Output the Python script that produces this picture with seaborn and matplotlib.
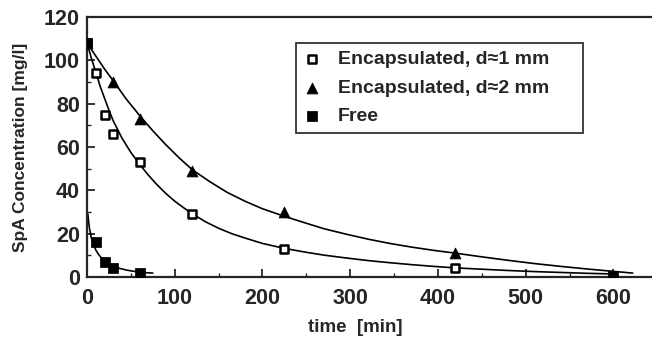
import matplotlib
matplotlib.use('Agg')
import matplotlib.pyplot as plt
import seaborn as sns
from matplotlib.ticker import MultipleLocator

# measured points
t_1mm = [0, 10, 20, 30, 60, 120, 225, 420]
c_1mm = [108, 94, 75, 66, 53, 29, 13, 4]
t_2mm = [0, 30, 60, 120, 225, 420]
c_2mm = [108, 90, 73, 49, 30, 11]
t_free = [0, 10, 20, 30, 60, 600]
c_free = [108, 16, 7, 4, 1.8, 0.5]

# fitted curves
fit_t_1mm = [0, 5, 10, 15, 20, 25, 30, 40, 50, 60, 70, 80, 90, 100, 110, 120, 135, 150, 165, 180,
             200, 225, 250, 270, 295, 320, 345, 370, 395, 420, 450, 480, 510, 540, 570, 600]
fit_c_1mm = [108, 101, 94.5, 88, 82.5, 77, 72, 64, 57.5, 52, 47, 42.5, 38.5, 35, 32, 29.2, 25.5, 22.5, 20, 18,
             15.5, 13.2, 11.4, 10.1, 8.8, 7.6, 6.6, 5.7, 4.9, 4.2, 3.6, 3.0, 2.5, 2.1, 1.7, 1.4]
fit_t_2mm = [0, 10, 20, 30, 45, 60, 75, 90, 105, 120, 140, 160, 180, 200, 225, 250, 270, 295, 320,
             345, 370, 395, 420, 450, 480, 510, 540, 570, 600, 622]
fit_c_2mm = [108, 102, 96, 90.5, 82, 74.5, 67.5, 61, 55, 49.5, 44, 39, 35, 31.5, 28, 24.8, 22.3, 19.8, 17.5,
             15.5, 13.8, 12.3, 11, 9.3, 7.7, 6.2, 4.9, 3.7, 2.6, 1.8]
fit_t_free = [1, 2, 3, 5, 7, 10, 13, 16, 20, 25, 30, 37, 45, 52, 60, 67, 75]
fit_c_free = [29, 25, 22, 18, 15.5, 12.5, 10.5, 9, 7.5, 6.1, 5, 4, 3.2, 2.7, 2.3, 2.0, 1.8]

sns.set_style('ticks')
plt.rcParams['font.family'] = ['Liberation Sans', 'DejaVu Sans']
plt.rcParams['font.weight'] = 'bold'

fig = plt.figure(figsize=(6.52, 3.41), dpi=100)
ax = fig.add_axes([87/652, 64/341, 1 - 87/652, (277 - 17)/341])

for ft, fc in [(fit_t_1mm, fit_c_1mm), (fit_t_2mm, fit_c_2mm), (fit_t_free, fit_c_free)]:
    sns.lineplot(x=ft, y=fc, ax=ax, color='black', lw=1.2, sort=False)

sns.scatterplot(x=t_1mm, y=c_1mm, ax=ax, marker='s', s=26, facecolor='white',
                edgecolor='black', linewidth=1.8, zorder=3, label='Encapsulated, d\u22481 mm')
sns.scatterplot(x=t_2mm, y=c_2mm, ax=ax, marker='^', s=60, color='black',
                edgecolor='black', zorder=3, label='Encapsulated, d\u22482 mm')
sns.scatterplot(x=t_free, y=c_free, ax=ax, marker='s', s=45, color='black',
                edgecolor='black', zorder=3, label='Free')

ax.set_xlim(0, 644)
ax.set_ylim(0, 120)
ax.xaxis.set_major_locator(MultipleLocator(100))
ax.xaxis.set_minor_locator(MultipleLocator(50))
ax.yaxis.set_major_locator(MultipleLocator(20))
ax.yaxis.set_minor_locator(MultipleLocator(10))
ax.tick_params(which='major', direction='in', length=6, width=1.3, labelsize=15.5)
ax.tick_params(which='minor', direction='in', length=3, width=1.0)
ax.tick_params(axis='x', pad=8)
ax.tick_params(axis='y', pad=5)
for lab in ax.get_xticklabels() + ax.get_yticklabels():
    lab.set_fontweight('bold')
ax.spines['right'].set_visible(False)
for s in ['left', 'bottom', 'top']:
    ax.spines[s].set_linewidth(1.6)

ax.set_xlabel('time  [min]', fontsize=13.5, fontweight='bold')
ax.xaxis.set_label_coords(0.475, -0.16)
ax.set_ylabel('SpA Concentration [mg/l]', fontsize=12.5, fontweight='bold')
ax.yaxis.set_label_coords(-0.105, 0.5)

leg = ax.legend(loc='upper left', bbox_to_anchor=(0.370, 0.89, 0.508, 0.01), mode='expand',
                borderaxespad=0, frameon=True, fancybox=False, edgecolor='black',
                handletextpad=0.95, labelspacing=0.55, borderpad=0.4, handlelength=0.8,
                prop={'weight': 'bold', 'size': 14})
leg.get_frame().set_linewidth(1.3)

fig.savefig('out.png', dpi=100)
